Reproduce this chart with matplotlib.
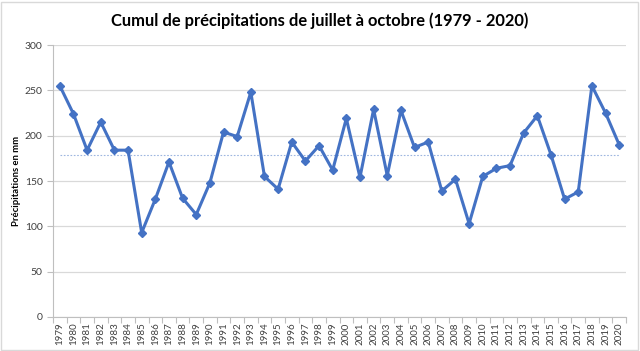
import numpy as np
import matplotlib
matplotlib.use("Agg")
import matplotlib.pyplot as plt
from matplotlib.patches import Rectangle

years = list(range(1979, 2021))
precip = [255, 224, 184, 215, 184, 184, 93, 130, 171, 131,
          113, 148, 204, 199, 248, 155, 141, 193, 172, 189,
          162, 219, 154, 229, 156, 228, 187, 193, 139, 152,
          103, 155, 164, 167, 203, 222, 179, 130, 138, 255,
          225, 190]
title = "Cumul de précipitations de juillet à octobre (1979 - 2020)"
ylabel = "Précipitations en mm"
yticks = [0, 50, 100, 150, 200, 250, 300]

plt.rcParams['font.family'] = ['Lato', 'DejaVu Sans']

fig = plt.figure(figsize=(6.4, 3.51), dpi=100)
ax = fig.add_axes([53/640, 34/351, (626-53)/640, (317-45)/351])

x = np.arange(len(years))
mean = np.mean(precip)
ax.plot([x[0], x[-1]], [mean, mean], color='#9DB6E0', lw=0.8, ls=(0, (1.5, 1.5)), zorder=2)
ax.plot(x, precip, color='#4472C4', lw=2.2, marker='D', markersize=4.5, zorder=3)

ax.set_xlim(-0.5, len(years) - 0.5)
ax.set_ylim(0, 300)
ax.set_yticks(yticks)
ax.set_xticks(x)
ax.set_xticklabels([str(y) for y in years], rotation=90, fontsize=7, color='#404040')
ax.tick_params(axis='x', length=0, pad=4)
ax.set_xticks(np.arange(-0.5, len(years), 1), minor=True)
ax.tick_params(axis='x', which='minor', length=4, color='#BFBFBF', width=0.8)
ax.tick_params(axis='y', labelsize=7.5, labelcolor='#404040', length=4, color='#BFBFBF', width=0.8)
ax.yaxis.grid(True, color='#D9D9D9', lw=0.9)
ax.set_axisbelow(True)
for s in ['top', 'right']:
    ax.spines[s].set_visible(False)
ax.spines['left'].set_color('#BFBFBF')
ax.spines['bottom'].set_color('#BFBFBF')
ax.spines['left'].set_linewidth(0.8)
ax.spines['bottom'].set_linewidth(0.8)

ax.set_ylabel(ylabel, fontsize=6.8, fontweight='bold', color='#000000')
ax.yaxis.set_label_coords(-(53 - 21) / 573, 0.5)
fig.text(0.5, 1 - 21/351, title, ha='center', va='center', fontsize=11.9, fontweight='bold', color='#000000')

fig.patches.append(Rectangle((1/640, 1/351), 637/640, 348/351, transform=fig.transFigure,
                             fill=False, edgecolor='#D9D9D9', lw=1))

fig.savefig('out.png', dpi=100)
